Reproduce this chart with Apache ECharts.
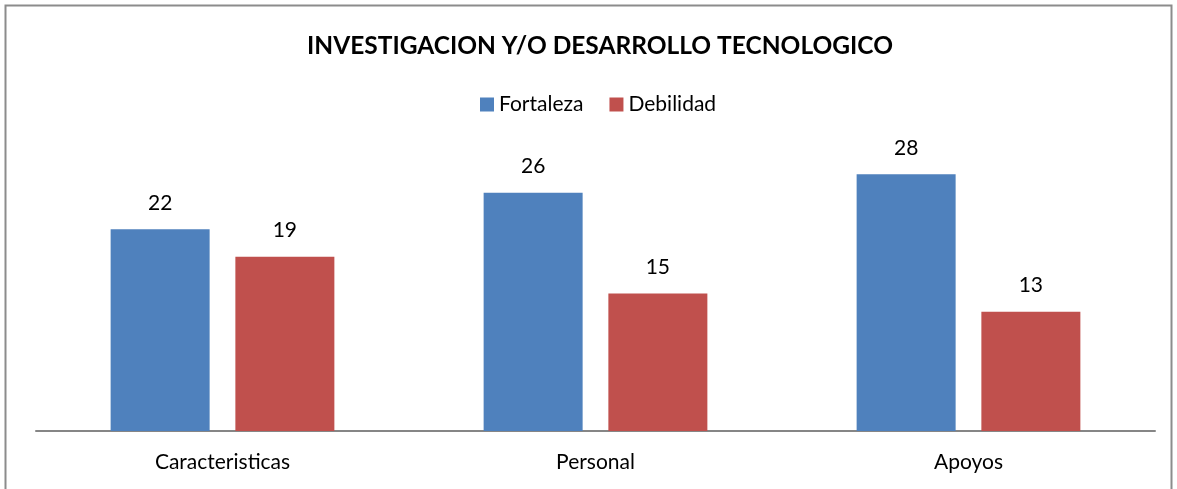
<!DOCTYPE html>
<html>
<head>
<meta charset="utf-8">
<script src="https://cdn.jsdelivr.net/npm/echarts@6/dist/echarts.min.js"></script>
<style>
  html, body { margin: 0; padding: 0; background: #fff; }
  #chart { width: 1177px; height: 489px; }
</style>
</head>
<body>
<div id="chart"></div>
<script>
const categories = ["Caracteristicas", "Personal", "Apoyos"];
const fortaleza = [22, 26, 28];
const debilidad = [19, 15, 13];

const chart = echarts.init(document.getElementById("chart"));
const font = "Lato, 'Open Sans', sans-serif";

chart.setOption({
    backgroundColor: "#fff",
    animation: false,
    graphic: [{
        type: "rect",
        shape: { x: 5.5, y: 5.5, width: 1166, height: 500 },
        style: { fill: "none", stroke: "#8c8c8c", lineWidth: 2 },
        z: -1
    }],
    title: {
        text: "INVESTIGACION Y/O DESARROLLO TECNOLOGICO",
        left: 595,
        textAlign: "center",
        top: 29,
        textStyle: { fontFamily: font, fontSize: 24.5, fontWeight: "bold", color: "#000" }
    },
    legend: {
        data: ["Fortaleza", "Debilidad"],
        left: 475,
        top: 89,
        itemWidth: 14,
        itemHeight: 14,
        itemGap: 26,
        icon: "rect",
        textStyle: { fontFamily: font, fontSize: 21, color: "#000" }
    },
    grid: { left: 36, right: 22, top: 156, bottom: 58, containLabel: false },
    xAxis: {
        type: "category",
        data: categories,
        axisLine: { lineStyle: { color: "#868686", width: 2 } },
        axisTick: { show: false },
        axisLabel: { fontFamily: font, fontSize: 21, color: "#000", margin: 21 }
    },
    yAxis: {
        type: "value",
        min: 0,
        max: 30,
        show: false,
        splitLine: { show: false }
    },
    series: [
        {
            name: "Fortaleza",
            type: "bar",
            data: fortaleza,
            barWidth: 99,
            barGap: "26%",
            itemStyle: { color: "#4F81BD" },
            label: { show: true, position: "top", distance: 16, fontFamily: font, fontSize: 21, color: "#000" }
        },
        {
            name: "Debilidad",
            type: "bar",
            data: debilidad,
            barWidth: 99,
            itemStyle: { color: "#C0504D" },
            label: { show: true, position: "top", distance: 16, fontFamily: font, fontSize: 21, color: "#000" }
        }
    ]
});
</script>
</body>
</html>
